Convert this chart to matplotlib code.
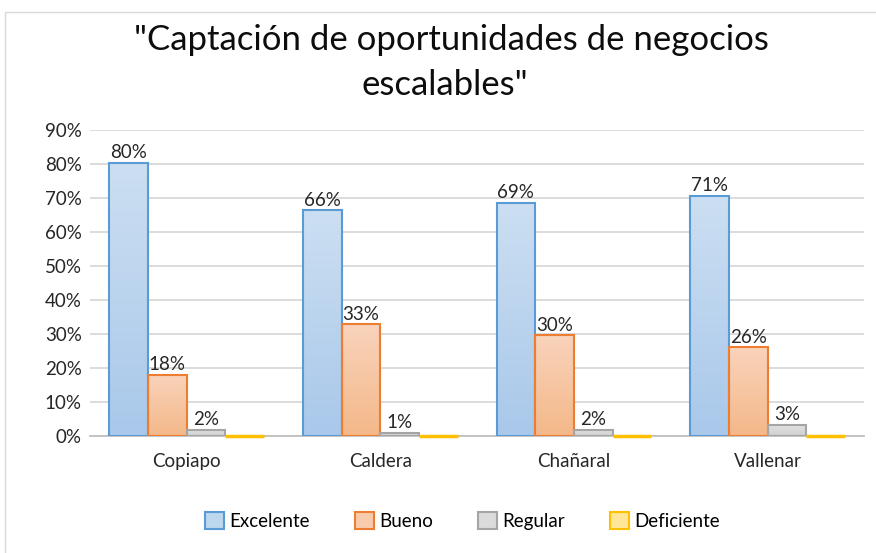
import numpy as np
import matplotlib.pyplot as plt
from matplotlib.patches import Rectangle
from matplotlib.colors import LinearSegmentedColormap

# datos
ciudades = ["Copiapo", "Caldera", "Chañaral", "Vallenar"]
excelente = [80.3, 66.4, 68.6, 70.6]
bueno = [18.0, 32.8, 29.6, 26.1]
regular = [1.8, 0.9, 1.8, 3.3]
deficiente = [0.0, 0.0, 0.0, 0.0]
series = ["Excelente", "Bueno", "Regular", "Deficiente"]

# degradado (arriba, abajo) y borde de cada serie
tops = ["#CCDFF2", "#F9D3BB", "#E3E3E3", "#FFEBA8"]
bottoms = ["#A9C8EA", "#F4B889", "#CFCFCF", "#FFDD75"]
edges = ["#5B9BD5", "#ED7D31", "#A5A5A5", "#FFC000"]
fills = ["#BDD7EE", "#F8CBAD", "#DBDBDB", "#FFE699"]

plt.rcParams['font.family'] = ['Lato', 'DejaVu Sans']

fig = plt.figure(figsize=(8.76, 5.53), dpi=100)
ax = fig.add_axes([0.1027, 0.2116, 0.884, 0.5534])

# marco del grafico
fig.patches.append(Rectangle((5 / 876, -0.01), 1.0, 1 - 12 / 553 + 0.01,
                             transform=fig.transFigure, fill=False,
                             edgecolor="#D9D9D9", linewidth=1.0))

x = np.arange(len(ciudades))
w = 0.2
valores = [excelente, bueno, regular, deficiente]
grad = np.linspace(0, 1, 100).reshape(-1, 1)
for k, vals in enumerate(valores):
    pos = x + (k - 1.5) * w
    if k == 3:
        # barras en cero: solo se ve el borde
        ax.hlines(vals, pos - w / 2, pos + w / 2, color=edges[k], linewidth=2.5,
                  zorder=5, clip_on=False)
        ax.bar([np.nan], [np.nan], w, color=fills[k], edgecolor=edges[k],
               linewidth=1.5, label=series[k])
        continue
    bars = ax.bar(pos, vals, w, color="none", edgecolor=edges[k], linewidth=1.5,
                  zorder=3)
    cmap = LinearSegmentedColormap.from_list("g", [bottoms[k], tops[k]])
    for b in bars:
        x0, y0 = b.get_x(), b.get_y()
        im = ax.imshow(grad, cmap=cmap, aspect="auto", origin="lower",
                       extent=[x0, x0 + b.get_width(), y0, y0 + b.get_height()],
                       zorder=2.9)
        im.set_clip_path(b)
    ax.bar([np.nan], [np.nan], w, color=fills[k], edgecolor=edges[k],
           linewidth=1.5, label=series[k])
    for p, v in zip(pos, vals):
        ax.text(p, v + 0.5, f"{v:.0f}%", ha="center", va="bottom",
                fontsize=13.5, color="#262626", zorder=4)

ax.set_xlim(-0.5, 3.5)
ax.set_ylim(0, 90)
ax.set_yticks(range(0, 91, 10))
ax.set_yticklabels([f"{t}%" for t in range(0, 91, 10)])
ax.set_xticks(x)
ax.set_xticklabels(ciudades)
ax.tick_params(length=0, labelsize=13.5, labelcolor="#262626")
ax.tick_params(axis="x", pad=12)
ax.tick_params(axis="y", pad=6)
ax.grid(axis="y", color="#D9D9D9", linewidth=1.3, zorder=0)
for s in ["top", "right", "left"]:
    ax.spines[s].set_visible(False)
ax.spines["bottom"].set_color("#BFBFBF")
ax.spines["bottom"].set_linewidth(1.3)

fig.text(0.515, 1 - 40 / 553, '"Captación de oportunidades de negocios',
         ha="center", va="center", fontsize=25, color="#0D0D0D")
fig.text(0.508, 1 - 85 / 553, 'escalables"',
         ha="center", va="center", fontsize=25, color="#0D0D0D")

fig.legend(loc="center", bbox_to_anchor=(0.528, 0.058), ncol=4, frameon=False,
           fontsize=13.5, handlelength=1.0, handleheight=1.0, handletextpad=0.3,
           columnspacing=2.4)

fig.savefig("out.png", dpi=100)
